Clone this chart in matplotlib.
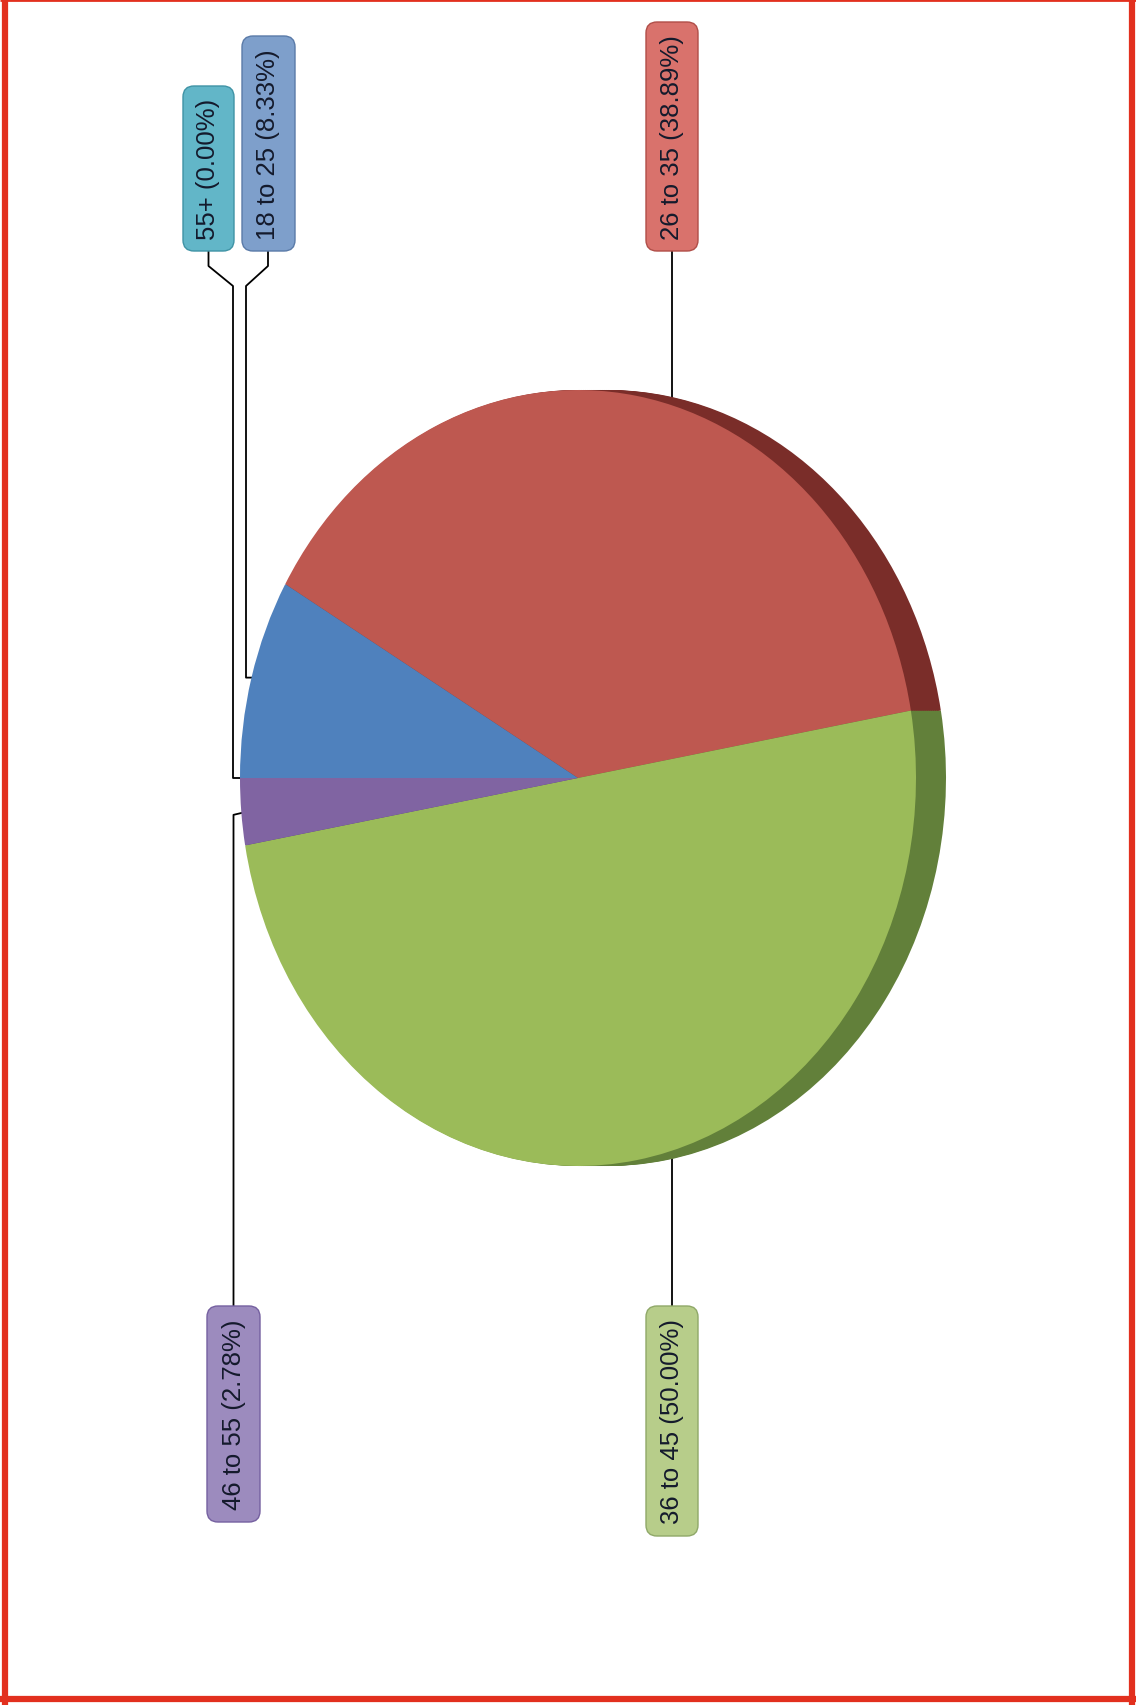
import numpy as np
import matplotlib
matplotlib.use("Agg")
import matplotlib.pyplot as plt
from matplotlib.patches import FancyBboxPatch

# ---- data ----
categories = ["18 to 25", "26 to 35", "36 to 45", "46 to 55", "55+"]
percent = [8.33, 38.89, 50.00, 2.78, 0.00]
labels = [f"{c} ({p:.2f}%)" for c, p in zip(categories, percent)]

top_colors = ["#4F81BD", "#BE5850", "#9BBB59", "#8064A2", "#4BACC6"]
side_colors = ["#2F5482", "#7A2D29", "#62803A", "#56407A", "#2E7A8C"]
box_colors = ["#7E9FCB", "#D9726C", "#B7CD8A", "#9C8BBE", "#62B6C8"]
box_edges = ["#5A7AA8", "#B04E48", "#8FA868", "#7560A0", "#3F93A5"]

W, H = 1136, 1706
CX, CY, RX, RY, DEPTH = 578, 779, 338, 388, 30

fig = plt.figure(figsize=(W / 100, H / 100), dpi=100)
fig.patch.set_facecolor("white")

# main overlay axes in pixel units
ax = fig.add_axes([0, 0, 1, 1])
ax.set_xlim(0, W)
ax.set_ylim(H, 0)
ax.axis("off")

# pie axes (elliptical, rotated 3D look)
pax = fig.add_axes([(CX - RX) / W, 1 - (CY + RY) / H, (2 * RX + DEPTH) / W, 2 * RY / H])
for d in np.linspace(DEPTH, 1, 16):
    pax.pie(percent, colors=side_colors, startangle=180, counterclock=False,
            center=(d / RX, 0), radius=1, wedgeprops=dict(linewidth=0))
pax.pie(percent, colors=top_colors, startangle=180, counterclock=False,
        center=(0, 0), radius=1, wedgeprops=dict(linewidth=0))
pax.set_aspect("auto")
pax.set_xlim(-1, 1 + DEPTH / RX)
pax.set_ylim(-1, 1)
pax.axis("off")


def ell(t_deg):
    t = np.radians(t_deg)
    return CX + RX * np.cos(t), CY - RY * np.sin(t)


def ell_y_at(x, top=True):
    s = np.sqrt(max(0.0, 1 - ((x - CX) / RX) ** 2))
    return CY - RY * s if top else CY + RY * s


# label boxes: (x0, y0, x1, y1)
boxes = {
    "18 to 25": (242, 37, 295, 252),
    "26 to 35": (646, 23, 698, 252),
    "36 to 45": (646, 1307, 698, 1537),
    "46 to 55": (207, 1307, 260, 1523),
    "55+": (183, 87, 234, 252),
}

# cumulative mid-angles (clockwise from 180°)
start = 180.0
mids = []
for p in percent:
    span = p / 100 * 360
    mids.append(start - span / 2)
    start -= span

lw = 1.3
for i, cat in enumerate(categories):
    x0, y0, x1, y1 = boxes[cat]
    xc = (x0 + x1) / 2
    if cat == "26 to 35":
        ax.plot([xc, xc], [y1, ell_y_at(xc, True) - 6], color="black", lw=lw)
    elif cat == "36 to 45":
        ax.plot([xc, xc], [y0, ell_y_at(xc, False) - 4], color="black", lw=lw)
    elif cat == "18 to 25":
        ax_, ay_ = ell(mids[i])
        ax.plot([268, 268, 246, 246, ax_ + 5], [y1, 267, 287, ay_, ay_], color="black", lw=lw)
    elif cat == "55+":
        ax_, ay_ = ell(mids[i])
        ax.plot([xc, xc, 233, 233, ax_ + 3], [y1, 267, 287, ay_, ay_], color="black", lw=lw)
    elif cat == "46 to 55":
        ax_, ay_ = ell(mids[i])
        ax.plot([xc, xc, ax_ + 5], [y0, ay_ + 3, ay_], color="black", lw=lw)

    box = FancyBboxPatch((x0, y0), x1 - x0, y1 - y0,
                         boxstyle="round,pad=0,rounding_size=11",
                         facecolor=box_colors[i], edgecolor=box_edges[i], lw=1.0, zorder=3)
    ax.add_patch(box)
    ax.text(xc, (y0 + y1) / 2, labels[i], rotation=90, ha="center", va="center",
            fontsize=18.5, family=["Liberation Sans", "DejaVu Sans"], color="#141a2c", zorder=4)

# red frame
red = "#E2301E"
ax.plot([5, 5], [0, H], color=red, lw=4.5, solid_capstyle="butt")
ax.plot([W - 4, W - 4], [0, H], color=red, lw=4.5, solid_capstyle="butt")
ax.plot([0, W], [H - 6, H - 6], color=red, lw=4.5, solid_capstyle="butt")
ax.plot([0, W], [1, 1], color=red, lw=2, solid_capstyle="butt")

fig.savefig("out.png", dpi=100, facecolor="white")
